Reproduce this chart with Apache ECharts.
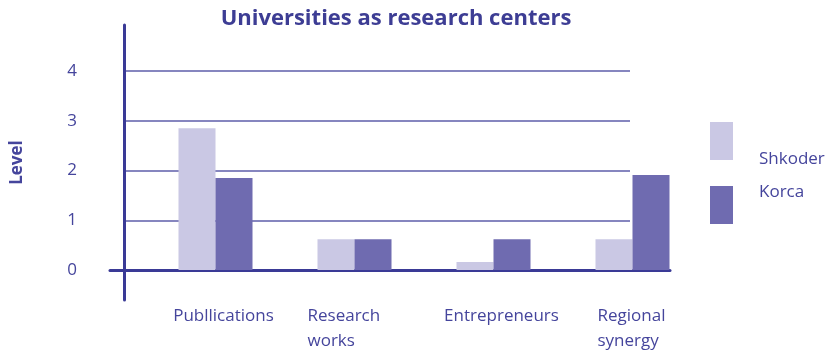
<!DOCTYPE html>
<html>
<head>
<meta charset="utf-8">
<script src="https://cdn.jsdelivr.net/npm/echarts@6/dist/echarts.min.js"></script>
<style>
  html, body { margin: 0; padding: 0; background: #ffffff; }
  #chart { width: 829px; height: 352px; }
</style>
</head>
<body>
<div id="chart"></div>
<script>
// Chart data
const categories = ['Publlications', 'Research\nworks', 'Entrepreneurs', 'Regional\nsynergy'];
const shkoderValues = [2.85, 0.62, 0.16, 0.62];
const korcaValues = [1.85, 0.62, 0.62, 1.91];
const levelTicks = [0, 1, 2, 3, 4];

const FONT = '"Open Sans", "Noto Sans", sans-serif';
const INK = '#45459c';
const AXIS_INK = '#3a3a96';

// per-category label styles: small horizontal nudges, two-line labels left-aligned
const labelStyleKeys = ['p', 'r', 'e', 'g'];
const labelBase = { fontFamily: FONT, fontSize: 17, lineHeight: 25, color: INK };
const labelRich = {
  p: Object.assign({ padding: [0, 0, 0, 16] }, labelBase),
  r: Object.assign({ width: 76, align: 'left', padding: [0, 18, 0, 0] }, labelBase),
  e: Object.assign({ padding: [0, 0, 0, 16] }, labelBase),
  g: Object.assign({ width: 76, align: 'left', padding: [0, 0, 0, 6] }, labelBase)
};

const chart = echarts.init(document.getElementById('chart'), null, { renderer: 'canvas' });

function legendFor(name, top, formatter, lineHeight) {
  return {
    data: [{ name: name }],
    orient: 'vertical',
    left: 710,
    top: top,
    padding: 0,
    icon: 'rect',
    itemWidth: 23,
    itemHeight: 38,
    selectedMode: false,
    formatter: formatter,
    textStyle: { fontFamily: FONT, fontSize: 17, lineHeight: lineHeight, color: INK, padding: [0, 0, 0, 21] }
  };
}

chart.setOption({
  backgroundColor: '#ffffff',
  animation: false,
  title: {
    text: 'Universities as research centers',
    left: 396,
    top: 8,
    padding: 0,
    textAlign: 'center',
    textStyle: { fontFamily: FONT, fontWeight: 700, fontSize: 22, color: '#3d3d94' }
  },
  legend: [
    legendFor('Shkoder', 105, '\n{name}', 36),
    legendFor('Korca', 179, '{name}\n', 26)
  ],
  grid: [
    // bars
    { left: 146, right: 127, top: 71, bottom: 82, outerBoundsMode: 'none' },
    // level gridlines and labels
    { left: 124, right: 199, top: 71, bottom: 82, outerBoundsMode: 'none' },
    // axis lines
    { left: 110, right: 159, top: 25, bottom: 52, outerBoundsMode: 'none' }
  ],
  xAxis: [
    {
      gridIndex: 0,
      type: 'category',
      data: categories,
      axisLine: { show: false },
      axisTick: { show: false },
      axisLabel: {
        margin: 34,
        fontFamily: FONT,
        fontSize: 17,
        lineHeight: 25,
        color: INK,
        interval: 0,
        formatter: function (name, index) {
          const key = labelStyleKeys[index];
          return name.split('\n').map(function (s) { return '{' + key + '|' + s + '}'; }).join('\n');
        },
        rich: labelRich
      }
    },
    { gridIndex: 1, type: 'value', min: 0, max: 1, show: false },
    {
      gridIndex: 2,
      type: 'value',
      min: 0,
      max: 1,
      offset: -30,
      axisLine: { show: true, onZero: false, lineStyle: { color: AXIS_INK, width: 3 } },
      axisTick: { show: false },
      axisLabel: { show: false },
      splitLine: { show: false }
    }
  ],
  yAxis: [
    { gridIndex: 0, type: 'value', min: 0, max: 4, show: false },
    {
      gridIndex: 1,
      type: 'value',
      min: levelTicks[0],
      max: levelTicks[levelTicks.length - 1],
      interval: 1,
      axisLine: { show: false },
      axisTick: { show: false },
      axisLabel: { margin: 47, fontFamily: FONT, fontSize: 17, color: INK },
      splitLine: { show: true, lineStyle: { color: '#5e5eaa', width: 1.5 } }
    },
    {
      gridIndex: 2,
      type: 'value',
      min: 0,
      max: 1,
      offset: -14,
      name: 'Level',
      nameLocation: 'middle',
      nameGap: 98,
      nameTextStyle: { fontFamily: FONT, fontWeight: 700, fontSize: 17, color: INK },
      axisLine: { show: true, onZero: false, lineStyle: { color: AXIS_INK, width: 3 } },
      axisTick: { show: false },
      axisLabel: { show: false },
      splitLine: { show: false }
    }
  ],
  series: [
    {
      name: 'Shkoder',
      type: 'bar',
      xAxisIndex: 0,
      yAxisIndex: 0,
      data: shkoderValues,
      barWidth: 37,
      barGap: '0%',
      itemStyle: { color: '#cac8e4' }
    },
    {
      name: 'Korca',
      type: 'bar',
      xAxisIndex: 0,
      yAxisIndex: 0,
      data: korcaValues,
      barWidth: 37,
      barGap: '0%',
      itemStyle: { color: '#6f6bb0' }
    }
  ]
});
</script>
</body>
</html>
